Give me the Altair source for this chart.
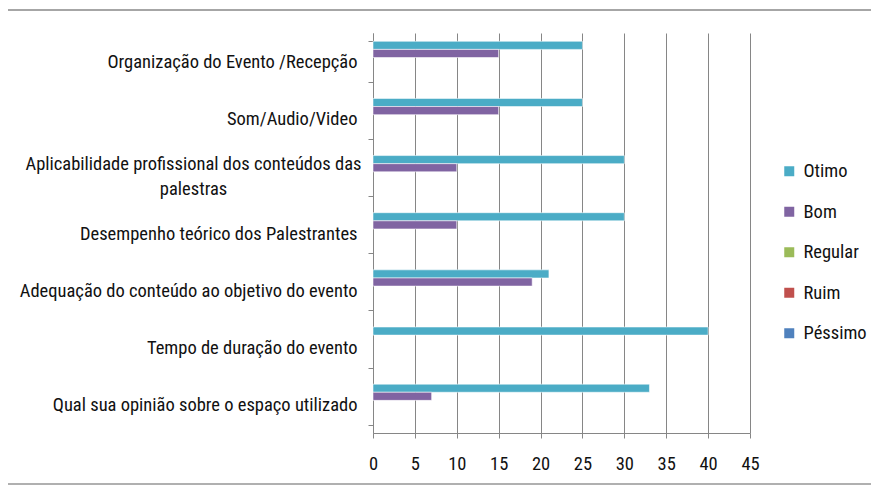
import altair as alt
import pandas as pd

categories = [
    "Organização do Evento /Recepção",
    "Som/Audio/Video",
    "Aplicabilidade profissional dos conteúdos das palestras",
    "Desempenho teórico dos Palestrantes",
    "Adequação do conteúdo ao objetivo do evento",
    "Tempo de duração do evento",
    "Qual sua opinião sobre o espaço utilizado",
]
series = ["Otimo", "Bom", "Regular", "Ruim", "Péssimo"]
otimo = [25, 25, 30, 30, 21, 40, 33]
bom = [15, 15, 10, 10, 19, 0, 7]
regular = [0, 0, 0, 0, 0, 0, 0]
ruim = [0, 0, 0, 0, 0, 0, 0]
pessimo = [0, 0, 0, 0, 0, 0, 0]
colors = ["#4BACC6", "#8064A2", "#9BBB59", "#C0504D", "#4F81BD"]
xticks = [0, 5, 10, 15, 20, 25, 30, 35, 40, 45]

wrap_label = "Aplicabilidade profissional dos conteúdos das palestras"

rows = []
for s, vals in zip(series, [otimo, bom, regular, ruim, pessimo]):
    for c, v in zip(categories, vals):
        rows.append({"categoria": c, "serie": s, "valor": v})
df = pd.DataFrame(rows)

FONT = "Liberation Sans Narrow, Roboto Condensed, Roboto, sans-serif"
GRID = "#868686"
TEXT = "#111111"
FS = 18.5

test = f"datum.value == '{wrap_label}'"

bars = (
    alt.Chart(df)
    .transform_filter("datum.valor > 0")
    .mark_bar(stroke="#ffffff", strokeWidth=1, strokeOpacity=0.55)
    .encode(
        x=alt.X(
            "valor:Q",
            scale=alt.Scale(domain=[0, 45], nice=False, zero=True),
            axis=alt.Axis(
                values=xticks,
                title=None,
                grid=True,
                gridColor=GRID,
                gridWidth=1,
                domainColor=GRID,
                tickColor=GRID,
                tickSize=5,
                labelPadding=16,
                labelFont=FONT,
                labelFontSize=FS,
                labelColor=TEXT,
                labelFlush=False,
                labelOverlap=False,
            ),
        ),
        y=alt.Y(
            "categoria:N",
            sort=categories,
            scale=alt.Scale(domain=categories, paddingInner=0.29, paddingOuter=0.145),
            axis=alt.Axis(
                title=None,
                grid=False,
                domainColor=GRID,
                tickColor=GRID,
                tickSize=5,
                tickBand="extent",
                labelFont=FONT,
                labelFontSize=FS,
                labelColor=TEXT,
                labelLimit=500,
                labelLineHeight=25,
                labelOverlap=False,
                labelExpr=(
                    f"datum.label == '{wrap_label}' ? "
                    "['Aplicabilidade profissional dos conteúdos das', 'palestras'] : datum.label"
                ),
                labelAlign={"condition": {"test": test, "value": "center"}, "value": "right"},
                labelPadding={"condition": {"test": test, "value": 175}, "value": 11},
                labelOffset={"condition": {"test": test, "value": -12.5}, "value": 0},
            ),
        ),
        yOffset=alt.YOffset("serie:N", sort=series, scale=alt.Scale(domain=series)),
        color=alt.Color(
            "serie:N",
            sort=series,
            scale=alt.Scale(domain=series, range=colors),
            legend=alt.Legend(
                title=None,
                orient="none",
                legendX=407,
                legendY=129,
                symbolType="square",
                symbolSize=100,
                symbolStrokeWidth=0,
                labelFont=FONT,
                labelFontSize=FS,
                labelColor=TEXT,
                labelOffset=5,
                rowPadding=21.5,
            ),
        ),
    )
)

top_line = (
    alt.Chart(alt.Data(values=[{}]))
    .mark_rule(color="#a6a6a6", strokeWidth=2)
    .encode(x=alt.value(-365), x2=alt.value(506), y=alt.value(-23))
)
bottom_line = (
    alt.Chart(alt.Data(values=[{}]))
    .mark_rule(color="#b0b0b0", strokeWidth=2)
    .encode(x=alt.value(-365), x2=alt.value(506), y=alt.value(451))
)

chart = (
    alt.layer(bars, top_line, bottom_line)
    .properties(
        width=377,
        height=400,
        autosize=alt.AutoSizeParams(type="none"),
        padding={"left": 365, "top": 25, "right": 121, "bottom": 53},
        background="#ffffff",
    )
    .configure_view(stroke=None)
)

chart.save("out.html", embed_options={"renderer": "svg", "actions": False})
